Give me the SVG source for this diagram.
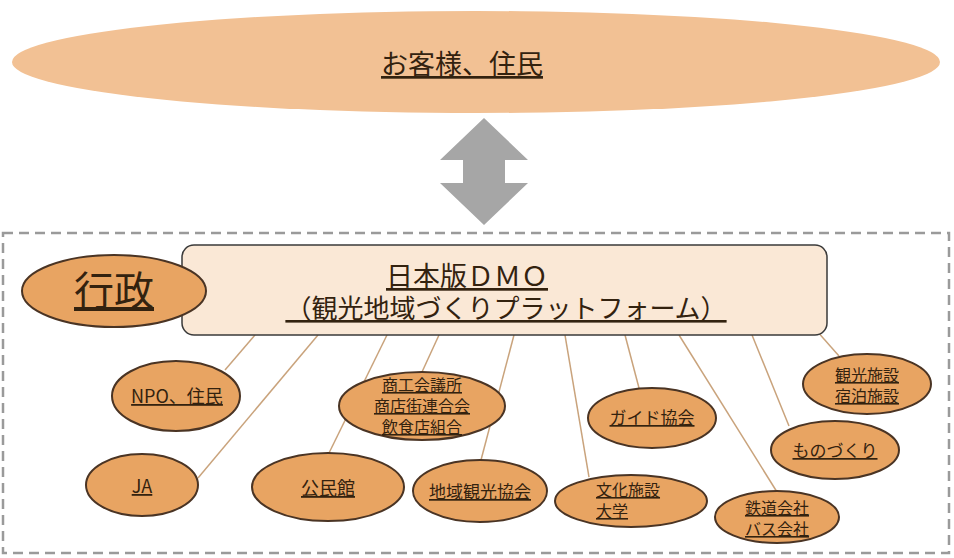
<svg xmlns="http://www.w3.org/2000/svg" width="954" height="558" viewBox="0 0 954 558">
<style>
.t{font-family:"Noto Sans CJK JP","Noto Sans",sans-serif;fill:#33220f;text-decoration:underline;text-anchor:middle}
.n{fill:#e8a462;stroke:#4a3424;stroke-width:2}
.c{stroke:#c9a37c;stroke-width:1.5;fill:none}
</style>
<rect width="954" height="558" fill="#ffffff"/>
<g id="customers">
<ellipse cx="476" cy="62" rx="464" ry="51" fill="#f2c194"/>
<text class="t" x="462" y="74" font-size="27">お客様、住民</text>
</g>
<g id="arrow">
<path d="M484,118 L528,160 L505,160 L505,183 L528,183 L484,225 L440,183 L463,183 L463,160 L440,160 Z" fill="#a6a6a6"/>
</g>
<g id="frame">
<rect x="3" y="233" width="946" height="320" fill="none" stroke="#9a9a9a" stroke-width="2.5" stroke-dasharray="10,6"/>
</g>
<g id="connectors">
<line class="c" x1="255" y1="335" x2="225" y2="370"/>
<line class="c" x1="318" y1="335" x2="198" y2="478"/>
<line class="c" x1="387" y1="335" x2="329" y2="453"/>
<line class="c" x1="439" y1="335" x2="422" y2="372"/>
<line class="c" x1="514" y1="335" x2="481" y2="460"/>
<line class="c" x1="565" y1="335" x2="589" y2="477"/>
<line class="c" x1="625" y1="335" x2="639" y2="388"/>
<line class="c" x1="679" y1="335" x2="777" y2="492"/>
<line class="c" x1="752" y1="335" x2="789" y2="426"/>
<line class="c" x1="816" y1="330" x2="839" y2="356"/>
</g>
<g id="dmo">
<rect x="182" y="245" width="645" height="90" rx="12" fill="#fae8d6" stroke="#3a3a3a" stroke-width="1.5"/>
<text class="t" x="467" y="286" font-size="27">日本版ＤＭＯ</text>
<text class="t" x="506" y="318" font-size="26">（観光地域づくりプラットフォーム）</text>
</g>
<g id="gyousei">
<ellipse class="n" cx="114" cy="291" rx="92" ry="36"/>
<text class="t" x="114" y="305" font-size="40">行政</text>
</g>
<g id="npo">
<ellipse class="n" cx="176" cy="396" rx="64" ry="35"/>
<text class="t" x="177" y="403" font-size="18">NPO、住民</text>
</g>
<g id="ja">
<ellipse class="n" cx="142" cy="485" rx="56" ry="31"/>
<text class="t" x="142" y="493" font-size="18">JA</text>
</g>
<g id="kouminkan">
<ellipse class="n" cx="328" cy="487" rx="76" ry="34"/>
<text class="t" x="328" y="495" font-size="18">公民館</text>
</g>
<g id="shoko">
<ellipse class="n" cx="422" cy="406" rx="83" ry="34"/>
<text class="t" x="422" y="391" font-size="16">商工会議所</text>
<text class="t" x="422" y="412" font-size="16">商店街連合会</text>
<text class="t" x="422" y="433" font-size="16">飲食店組合</text>
</g>
<g id="chiiki">
<ellipse class="n" cx="480" cy="491" rx="67" ry="31"/>
<text class="t" x="480" y="498" font-size="17">地域観光協会</text>
</g>
<g id="bunka">
<ellipse class="n" cx="631" cy="501" rx="76" ry="26"/>
<text class="t" x="596" y="496" font-size="16" style="text-anchor:start">文化施設</text>
<text class="t" x="596" y="517" font-size="16" style="text-anchor:start">大学</text>
</g>
<g id="guide">
<ellipse class="n" cx="652" cy="418" rx="64" ry="30"/>
<text class="t" x="652" y="424" font-size="17">ガイド協会</text>
</g>
<g id="tetsudo">
<ellipse class="n" cx="777" cy="517" rx="62" ry="26"/>
<text class="t" x="777" y="514" font-size="16">鉄道会社</text>
<text class="t" x="777" y="535" font-size="16">バス会社</text>
</g>
<g id="monozukuri">
<ellipse class="n" cx="835" cy="450" rx="64" ry="29"/>
<text class="t" x="835" y="457" font-size="17">ものづくり</text>
</g>
<g id="kanko">
<ellipse class="n" cx="867" cy="384" rx="64" ry="30"/>
<text class="t" x="867" y="381" font-size="16">観光施設</text>
<text class="t" x="867" y="402" font-size="16">宿泊施設</text>
</g>
</svg>
